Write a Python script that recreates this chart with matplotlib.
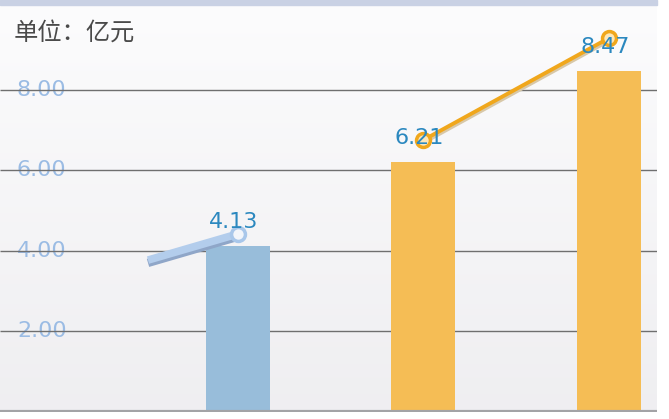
import numpy as np
import matplotlib
matplotlib.use("Agg")
import matplotlib.pyplot as plt
from matplotlib.patches import Rectangle

plt.rcParams['font.family'] = ['Noto Sans CJK SC', 'DejaVu Sans']

# data
cats = [0, 1, 2]
values = [4.13, 6.21, 8.47]
bar_colors = ['#98bdda', '#f5bd55', '#f5bd55']
yticks = [2, 4, 6, 8]
ytick_labels = ['2.00', '4.00', '6.00', '8.00']
# the two trend line pieces (x in category units)
blue_x = [-0.485, 0]
blue_y = [3.77, 4.42]
orange_x = [1, 2]
orange_y = [6.75, 9.28]

fig = plt.figure(figsize=(6.69, 4.19), dpi=100, facecolor='white')
ax = fig.add_axes([0, 7 / 419, 657 / 669, 407 / 419])
ax.set_xlim(-1.283, 2.259)

# soft vertical gradient background (light at top, greyer at bottom)
grad = np.linspace(0, 1, 256).reshape(-1, 1)
top = np.array([0.988, 0.988, 0.992])
bot = np.array([0.937, 0.935, 0.945])
img = top * (1 - grad[..., None]) + bot * grad[..., None]
ax.imshow(img, extent=[-1.283, 2.259, 0, 10.1], origin='upper',
          aspect='auto', zorder=0)
ax.set_ylim(0, 10.1)

for s in ax.spines.values():
    s.set_visible(False)
ax.set_xticks([])
ax.set_yticks([])

# y labels sit under the gridlines
for t, lab in zip(yticks, ytick_labels):
    ax.text(17 / 657, t, lab, transform=ax.get_yaxis_transform(),
            ha='left', va='center', fontsize=16, color='#9bbce4',
            family='DejaVu Sans', zorder=0.5)
ax.hlines(yticks, -1.283, 2.259, color='#6f6f6f', lw=1.0, zorder=1)
ax.axhline(0, color='#a3a3a6', lw=3, zorder=3)

ax.bar(cats, values, width=0.345, color=bar_colors, zorder=2)

# trend lines with a faint shadow
ax.plot(blue_x, np.array(blue_y) - 0.07, color='#8fa6c8', lw=6,
        solid_capstyle='butt', zorder=3)
ax.plot(blue_x, blue_y, color='#b3cdec', lw=5.5, solid_capstyle='butt', zorder=4)
ax.plot(blue_x[-1:], blue_y[-1:], 'o', ms=10, mfc='#f2f5fa', mec='#a9c7ea',
        mew=2.5, zorder=5)
ax.plot(orange_x, np.array(orange_y) - 0.05, color='#d8c8a8', lw=3.5, zorder=3)
ax.plot(orange_x, orange_y, color='#f0a71c', lw=2.8, zorder=4)
ax.plot(orange_x, orange_y, 'o', ms=10, mfc='#fde7b8', mec='#f0a71c',
        mew=2.5, zorder=5)

for x, v in zip(cats, values):
    ax.annotate(f'{v:.2f}', xy=(x, v), xytext=(-3, 17),
                textcoords='offset points', ha='center', va='center',
                fontsize=16, color='#2b88bf', family='DejaVu Sans', zorder=6)

ax.text(14 / 657, 1 - 28 / 407, '单位：亿元', transform=ax.transAxes,
        ha='left', va='center', fontsize=17.5, color='#4a4a4a', zorder=6)

# thin band along the top edge
fig.patches.append(Rectangle((0, 414 / 419), 657 / 669, 5 / 419,
                             transform=fig.transFigure, color='#c9d1e4'))

fig.savefig('out.png', dpi=100, facecolor='white')
